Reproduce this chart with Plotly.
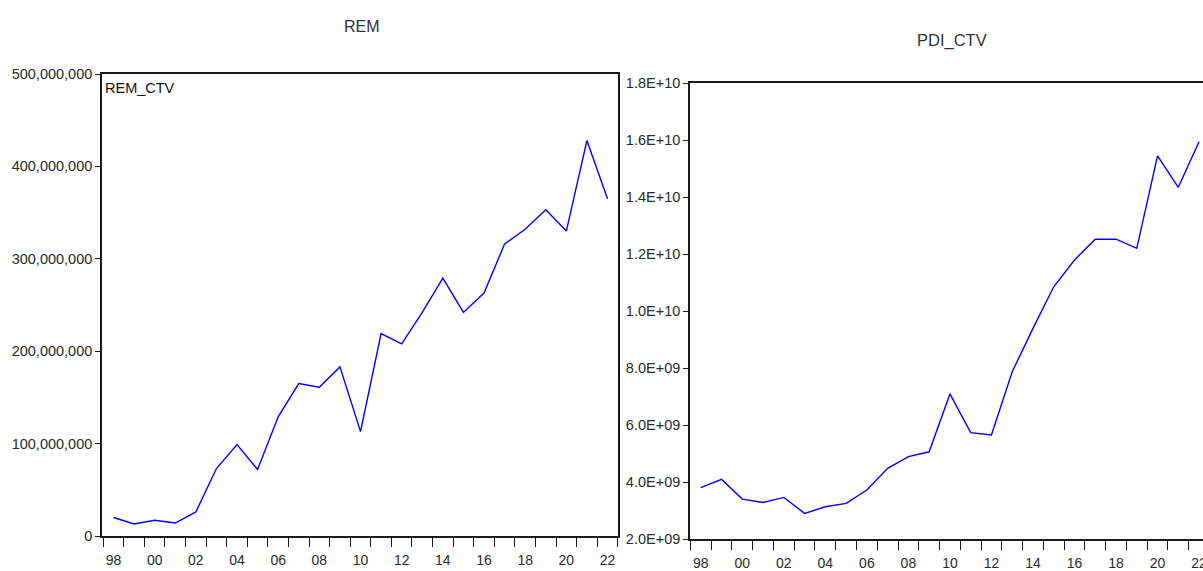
import plotly.graph_objects as go

years = list(range(1998, 2023))
rem_ctv = [20e6, 13e6, 17e6, 14e6, 26e6, 73e6, 99e6, 72e6, 129e6, 165e6, 161e6, 183e6, 113e6,
           219e6, 208e6, 242e6, 279e6, 242e6, 263e6, 316e6, 332e6, 353e6, 330e6, 428e6, 365e6]
pdi_ctv = [3.80e9, 4.09e9, 3.40e9, 3.28e9, 3.46e9, 2.90e9, 3.13e9, 3.25e9, 3.72e9, 4.48e9,
           4.89e9, 5.06e9, 7.09e9, 5.73e9, 5.65e9, 7.87e9, 9.39e9, 10.85e9, 11.79e9, 12.52e9,
           12.52e9, 12.20e9, 15.44e9, 14.34e9, 15.94e9]

label_years = list(range(1998, 2023, 2))
label_text = [f"{y % 100:02d}" for y in label_years]
tick_bounds = [y - 0.5 for y in years] + [years[-1] + 0.5]
rem_ticks = [0, 100e6, 200e6, 300e6, 400e6, 500e6]
pdi_ticks = [2e9, 4e9, 6e9, 8e9, 10e9, 12e9, 14e9, 16e9, 18e9]
pdi_text = [f"{v:.1E}" for v in pdi_ticks]

W, H = 1203, 571
FONT = "Liberation Sans, Arial, sans-serif"
LINE = "#1a1a1a"
TXT = "#2a2a2a"

fig = go.Figure()
fig.add_trace(go.Scatter(x=years, y=rem_ctv, mode="lines", xaxis="x", yaxis="y",
                         line=dict(color="#0000ff", width=1.4), showlegend=False))
fig.add_trace(go.Scatter(x=years, y=pdi_ctv, mode="lines", xaxis="x2", yaxis="y2",
                         line=dict(color="#0000ff", width=1.4), showlegend=False))

def xax(domain, rng, mirror):
    return dict(domain=domain, range=rng, tickmode="array", tickvals=label_years,
                ticktext=label_text, ticks="outside", ticklen=10, tickcolor="rgba(0,0,0,0)",
                tickfont=dict(family=FONT, size=14, color=TXT), ticklabeloverflow="allow",
                showline=True, linecolor=LINE, linewidth=1.6, mirror=mirror,
                showgrid=False, zeroline=False, automargin=False,
                minor=dict(tickmode="array", tickvals=tick_bounds, ticks="outside",
                           ticklen=9, tickcolor=LINE, tickwidth=1.4, showgrid=False))

fig.update_layout(
    width=W, height=H, margin=dict(l=0, r=0, t=0, b=0, pad=0, autoexpand=False),
    paper_bgcolor="white", plot_bgcolor="white",
    xaxis=dict(**xax([102 / W, 618 / W], [1997.44, 2022.51], True), anchor="y"),
    yaxis=dict(domain=[1 - 536 / H, 1 - 74 / H], range=[0, 500e6], anchor="x",
               tickmode="array", tickvals=rem_ticks, tickformat=",",
               ticks="outside", ticklen=5, tickcolor=LINE, tickwidth=1.4,
               tickfont=dict(family=FONT, size=14.5, color=TXT), automargin=False,
               showline=True, linecolor=LINE, linewidth=1.6, mirror=True,
               showgrid=False, zeroline=False),
    xaxis2=dict(**xax([690 / W, 1.0], [1997.48, 2022.19], True), anchor="y2"),
    yaxis2=dict(domain=[1 - 539 / H, 1 - 83 / H], range=[2e9, 18e9], anchor="x2",
                tickmode="array", tickvals=pdi_ticks, ticktext=pdi_text,
                ticks="outside", ticklen=5, tickcolor=LINE, tickwidth=1.4,
                tickfont=dict(family=FONT, size=14.5, color=TXT), automargin=False,
                showline=True, linecolor=LINE, linewidth=1.6, mirror=False,
                showgrid=False, zeroline=False),
    annotations=[
        dict(text="REM", x=362 / W, y=1 - 27 / H, xref="paper", yref="paper",
             xanchor="center", yanchor="middle", showarrow=False,
             font=dict(family=FONT, size=16, color="#333")),
        dict(text="PDI_CTV", x=952 / W, y=1 - 40 / H, xref="paper", yref="paper",
             xanchor="center", yanchor="middle", showarrow=False,
             font=dict(family=FONT, size=16.5, color="#333")),
        dict(text="REM_CTV", x=103 / W, y=1 - 78 / H, xref="paper", yref="paper",
             xanchor="left", yanchor="top", showarrow=False,
             font=dict(family=FONT, size=14.5, color="#111")),
    ],
)

fig.write_html("out.html", config={"displayModeBar": False},
               post_script="document.body.style.margin='0';")
